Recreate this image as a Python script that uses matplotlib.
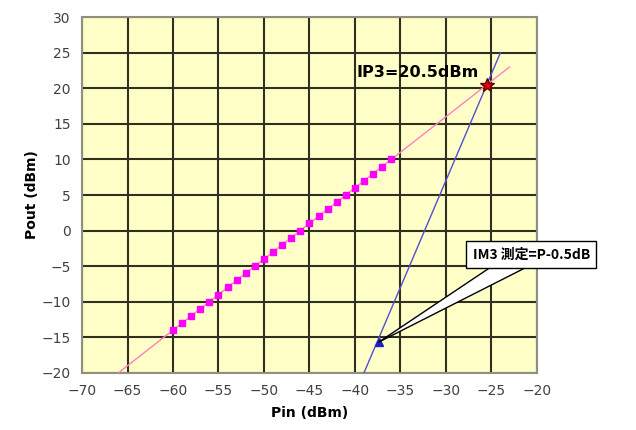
import numpy as np
import matplotlib.pyplot as plt
from matplotlib.patches import Polygon

# measured fundamental output
pin_meas = [-60, -59, -58, -57, -56, -55, -54, -53, -52, -51, -50, -49, -48,
            -47, -46, -45, -44, -43, -42, -41, -40, -39, -38, -37, -36]
pout_meas = [-14, -13, -12, -11, -10, -9, -8, -7, -6, -5, -4, -3, -2,
             -1, 0, 1, 2, 3, 4, 5, 6, 7, 8, 9, 10]

# fitted lines
fund_x = [-66, -23]
fund_y = [-20, 23]
im3_x = [-39, -24]
im3_y = [-20, 25]

ip3_x, ip3_y = -25.5, 20.5
im3_pt_x, im3_pt_y = -37.4, -15.7

# callout box placement
note_x, note_y = -20.6, -3.4
wedge_x0, wedge_x1, wedge_y = -24.9, -20.9, -5.0

fig = plt.figure(figsize=(6.36, 4.30), dpi=100)
ax = fig.add_axes([0.129, 0.133, 0.715, 0.827])
ax.set_facecolor('#FFFFC8')

ax.plot(fund_x, fund_y, color='#FF80C0', lw=1.0, zorder=3)
ax.plot(im3_x, im3_y, color='#5050D0', lw=1.0, zorder=3)
ax.plot(pin_meas, pout_meas, ls='none', marker='s', ms=5, color='#FF00FF', zorder=4)
ax.plot([ip3_x], [ip3_y], marker='*', ms=10, color='#E00000', mec='#600000', zorder=5)
ax.plot([im3_pt_x], [im3_pt_y], marker='^', ms=6, color='#2020C0', zorder=5)

ax.text(-39.8, 22.2, 'IP3=20.5dBm', fontsize=11.5, fontweight='bold', va='center', zorder=6)

# wedge of the callout
ax.add_patch(Polygon([(im3_pt_x, im3_pt_y), (wedge_x0, wedge_y), (wedge_x1, wedge_y)],
                     closed=True, fc='white', ec='black', lw=1, zorder=6, clip_on=False))
ax.text(note_x, note_y, 'IM3 測定=P-0.5dB', ha='center', va='center',
        fontsize=10, fontweight='bold', family=['Noto Sans CJK JP', 'DejaVu Sans'],
        bbox=dict(boxstyle='square,pad=0.45', fc='white', ec='black', lw=1),
        clip_on=False, zorder=7)

ax.set_xlim(-70, -20)
ax.set_ylim(-20, 30)
ax.set_xticks(np.arange(-70, -19, 5))
ax.set_yticks(np.arange(-20, 31, 5))
ax.grid(True, color='#303020', lw=1.5)
ax.set_axisbelow(True)
ax.tick_params(length=0, labelsize=10, colors='#404040', pad=8)
for s in ax.spines.values():
    s.set_color('#909080')
    s.set_linewidth(1.5)

ax.set_xlabel('Pin (dBm)', fontsize=10, fontweight='bold', labelpad=6)
ax.set_ylabel('Pout (dBm)', fontsize=10, fontweight='bold', labelpad=2)

fig.savefig('out.png', dpi=100)
